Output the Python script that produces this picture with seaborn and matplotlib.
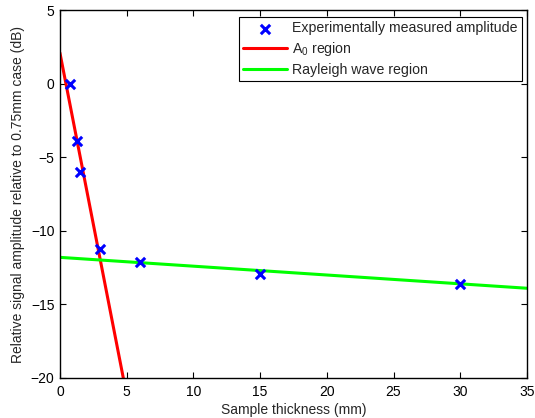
import matplotlib
matplotlib.use("Agg")
import matplotlib.pyplot as plt
import seaborn as sns
import pandas as pd

# Measured amplitudes
thickness_mm = [0.75, 1.25, 1.5, 3, 6, 15, 30]
amplitude_db = [0.0, -3.9, -6.0, -11.2, -12.1, -12.9, -13.6]

# Fitted trend lines (end points)
a0_x = [0.0, 4.75]
a0_y = [2.1, -20.0]
rayleigh_x = [0.0, 35.0]
rayleigh_y = [-11.8, -13.9]

sns.set_theme(style="ticks")
plt.rcParams["font.family"] = ["Liberation Sans", "DejaVu Sans"]
plt.rcParams["mathtext.fontset"] = "custom"
plt.rcParams["mathtext.rm"] = "Liberation Sans"
plt.rcParams["mathtext.it"] = "Liberation Sans"

fig = plt.figure(figsize=(5.35, 4.18), dpi=100)
ax = fig.add_axes([0.112, 0.0957, 0.873, 0.880])

meas = pd.DataFrame({"x": thickness_mm, "y": amplitude_db})
sns.scatterplot(data=meas, x="x", y="y", ax=ax, marker="x", s=45,
                color="#0000ff", linewidth=2.2, zorder=3,
                label="Experimentally measured amplitude")
sns.lineplot(x=a0_x, y=a0_y, ax=ax, color="#ff0000", linewidth=2.2,
             label="A$_0$ region", zorder=2)
sns.lineplot(x=rayleigh_x, y=rayleigh_y, ax=ax, color="#00ff00",
             linewidth=2.2, label="Rayleigh wave region", zorder=2)

ax.set_xlim(0, 35)
ax.set_ylim(-20, 5)
ax.set_xticks(range(0, 36, 5))
ax.set_yticks(range(-20, 6, 5))
ax.set_yticklabels(["\u221220", "\u221215", "\u221210", "\u22125", "0", "5"])
ax.tick_params(direction="in", top=True, right=True, length=4,
               width=0.8, labelsize=10, colors="black")
ax.tick_params(axis="x", pad=5)
ax.tick_params(axis="y", pad=4)
for sp in ax.spines.values():
    sp.set_color("black")
    sp.set_linewidth(1.0)
ax.set_xlabel("Sample thickness (mm)", fontsize=10, labelpad=3)
ax.set_ylabel("Relative signal amplitude relative to 0.75mm case (dB)",
              fontsize=10, labelpad=4)

leg = ax.legend(loc="upper right", bbox_to_anchor=(0.989, 0.981),
                bbox_transform=ax.transAxes, borderaxespad=0,
                fontsize=10.2, frameon=True, fancybox=False,
                edgecolor="black", framealpha=1, borderpad=0.3,
                labelspacing=0.33, handlelength=3.1, handletextpad=0.35)
leg.get_frame().set_linewidth(0.8)

fig.savefig("out.png", dpi=100)
